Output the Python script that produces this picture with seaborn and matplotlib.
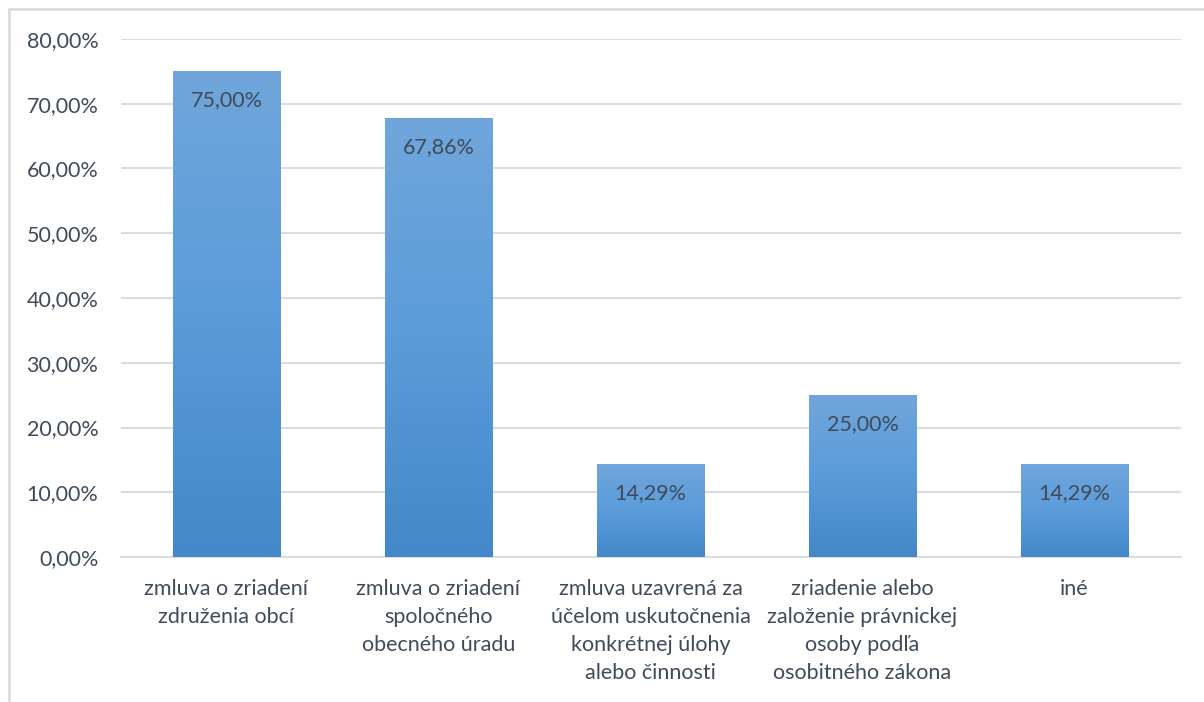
import matplotlib
matplotlib.use("Agg")
import matplotlib.pyplot as plt
import seaborn as sns
import numpy as np
import pandas as pd
from matplotlib.colors import LinearSegmentedColormap
from matplotlib.lines import Line2D

categories = [
    "zmluva o zriadení\nzdruženia obcí",
    "zmluva o zriadení\nspoločného\nobecného úradu",
    "zmluva uzavrená za\núčelom uskutočnenia\nkonkrétnej úlohy\nalebo činnosti",
    "zriadenie alebo\nzaloženie právnickej\nosoby podľa\nosobitného zákona",
    "iné",
]
values = [75.00, 67.86, 14.29, 25.00, 14.29]
value_labels = ["75,00%", "67,86%", "14,29%", "25,00%", "14,29%"]
yticks = [0, 10, 20, 30, 40, 50, 60, 70, 80]
ytick_labels = ["0,00%", "10,00%", "20,00%", "30,00%", "40,00%", "50,00%", "60,00%", "70,00%", "80,00%"]

sns.set_theme(style="white")
plt.rcParams["font.family"] = ["Lato", "DejaVu Sans"]

text_color = "#404B5A"
grid_color = "#D9DDE3"

fig = plt.figure(figsize=(12.04, 7.02), dpi=100)
W, H = 1204, 702
ax = fig.add_axes([120.5 / W, 1 - 557 / H, (1180.5 - 120.5) / W, (557 - 39) / H])

df = pd.DataFrame({"cat": categories, "val": values})
sns.barplot(data=df, x="cat", y="val", ax=ax, color="#5B9BD5", width=0.505,
            saturation=1, zorder=2)

ax.set_ylim(0, 80)
ax.set_xlim(-0.5, len(categories) - 0.5)
ax.set_yticks(yticks)
ax.set_yticklabels(ytick_labels)
ax.set_xlabel("")
ax.set_ylabel("")
ax.yaxis.grid(True, color=grid_color, linewidth=1.5, zorder=0)
ax.set_axisbelow(True)
for s in ["top", "right", "left"]:
    ax.spines[s].set_visible(False)
ax.spines["bottom"].set_color(grid_color)
ax.spines["bottom"].set_linewidth(1.5)
ax.tick_params(axis="y", length=0, pad=16, labelsize=15.5, labelcolor=text_color)
ax.tick_params(axis="x", length=0, pad=16, labelsize=15.5, labelcolor=text_color)
for lbl in ax.get_xticklabels():
    lbl.set_linespacing(1.5)
    lbl.set_horizontalalignment("center")
    lbl.set_verticalalignment("top")

# gradient fill per bar
cmap = LinearSegmentedColormap.from_list("g", ["#4388C8", "#5B9BDA", "#70A6DB"])
grad = np.linspace(0, 1, 256).reshape(-1, 1)
for patch in ax.patches:
    x0, y0 = patch.get_x(), patch.get_y()
    w, h = patch.get_width(), patch.get_height()
    im = ax.imshow(grad, extent=[x0, x0 + w, y0, y0 + h], origin="lower",
                   cmap=cmap, aspect="auto", zorder=3)
    im.set_clip_path(patch)
    patch.set_edgecolor("none")

for i, (v, t) in enumerate(zip(values, value_labels)):
    ax.annotate(t, xy=(i, v), xytext=(0, -29), textcoords="offset pixels",
                ha="center", va="center", fontsize=15.5, color=text_color, zorder=5)

ax.set_xlim(-0.5, len(categories) - 0.5)
ax.set_ylim(0, 80)

# chart frame (top and left lines)
fig.add_artist(Line2D([9 / W, 1], [1 - 9 / H, 1 - 9 / H], color=grid_color, linewidth=2,
                      transform=fig.transFigure))
fig.add_artist(Line2D([9 / W, 9 / W], [0, 1 - 9 / H], color=grid_color, linewidth=2,
                      transform=fig.transFigure))

fig.savefig("out.png", dpi=100)
